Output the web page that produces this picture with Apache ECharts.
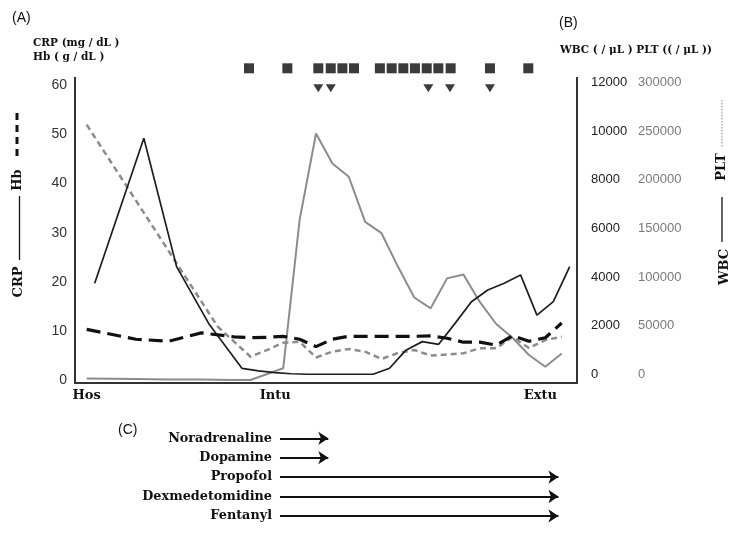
<!DOCTYPE html>
<html>
<head>
<meta charset="utf-8">
<script src="https://cdn.jsdelivr.net/npm/echarts@6/dist/echarts.min.js"></script>
<style>
html, body { margin: 0; padding: 0; background: #fff; }
#chart { width: 750px; height: 550px; }
</style>
</head>
<body>
<div id="chart"></div>
<script>
// day index since hospitalisation
const days = ['0', '1', '2', '3', '4', '5', '6', '7', '8', '9', '10', '11', '12', '13', '14',
  '15', '16', '17', '18', '19', '20', '21', '22', '23', '24', '25', '26', '27', '28', '29'];
const milestones = { 0: 'Hos', 12: 'Intu', 28: 'Extu' };

// (A) CRP mg/dL, Hb g/dL  (null = not measured)
const crp = [0.3, null, null, 0.2, null, 0.1, null, 0.1, null, 0.0, 0.0, null, 2.4, 32.6, 50.2,
  44.1, 41.4, 32.2, 29.9, 23.1, 16.8, 14.6, 20.7, 21.5, 15.9, 11.4, 8.6, 5.1, 2.7, 5.4];
const hb = [10.3, null, null, 8.3, null, 7.9, null, 9.6, null, 8.8, 8.6, 8.7, 8.9, 8.3, 6.8,
  8.3, 8.9, 8.9, 8.9, 8.9, 8.9, 9.0, 8.5, 7.7, 7.7, 7.1, 9.0, 7.9, 8.6, 11.6];

// (B) WBC /uL, PLT /uL
const wbc = [3750, null, null, 9700, null, 4430, null, 2050, null, 250, 150, 80, 30, 10, 10,
  10, 10, 10, 255, 1000, 1350, 1240, 2100, 2990, 3470, 3750, 4090, 2440, 2990, 4430];
const plt = [260000, null, null, null, null, null, null, null, 54300, null, 23700, 30500, 38000, 39000, 22900,
  28800, 31600, 28800, 21400, 27500, 30500, 24900, 26000, 27200, 32300, 32300, 43800, 32600, 40700, 44100];

// markers above the plot (day position)
const squareDays = [9.91, 12.25, 14.14, 14.9, 15.61, 16.32, 17.9, 18.62, 19.33, 20.04, 20.76, 21.47, 22.22, 24.62, 26.96];
const triangleDays = [14.14, 14.9, 20.86, 22.18, 24.62];

// (C) drugs
const drugNames = ['Noradrenaline', 'Dopamine', 'Propofol', 'Dexmedetomidine', 'Fentanyl'];
const drugStart = [11.8, 11.8, 11.8, 11.8, 11.8];
const drugEnd = [14.75, 14.75, 28.8, 28.8, 28.8];

const serif = 'DejaVu Serif';
const sans = 'Liberation Sans';

const chart = echarts.init(document.getElementById('chart'));

const labelRich = {
  hos: { fontFamily: serif, fontWeight: 'bold', fontSize: 13, color: '#111' },
  intu: { fontFamily: serif, fontWeight: 'bold', fontSize: 13, color: '#111', padding: [0, 16, 0, 0] },
  extu: { fontFamily: serif, fontWeight: 'bold', fontSize: 13, color: '#111', padding: [0, 10, 0, 0] },
};

const option = {
  animation: false,
  backgroundColor: '#fff',
  grid: [
    { left: 86.7, right: 188.3, top: 85.4, bottom: 170 },   // A
    { left: 94.7, right: 180.3, top: 82.3, bottom: 175.5 }, // B
    { left: 86.7, right: 188.3, top: 68.3, height: 20 },    // markers
    { left: 86.7, right: 188.3, top: 428.6, height: 97 },   // drugs
  ],
  xAxis: [
    {
      gridIndex: 0,
      type: 'category',
      data: days,
      boundaryGap: false,
      axisLine: { show: false },
      axisTick: { show: false },
      splitLine: { show: false },
      axisLabel: {
        interval: 0,
        margin: 9,
        formatter(v, i) {
          const m = milestones[i];
          return m ? `{${m.toLowerCase()}|${m}}` : '';
        },
        rich: labelRich,
      },
    },
    { gridIndex: 1, type: 'category', data: days, boundaryGap: false, show: false },
    { gridIndex: 2, type: 'value', min: 0, max: 29, show: false },
    { gridIndex: 3, type: 'value', min: 0, max: 29, show: false },
  ],
  yAxis: [
    {
      gridIndex: 0,
      type: 'value',
      min: 0,
      max: 60,
      interval: 10,
      axisLine: { show: false },
      axisTick: { show: false },
      splitLine: { show: false },
      axisLabel: { margin: 19.7, fontFamily: sans, fontSize: 14, color: '#333' },
    },
    { gridIndex: 0, type: 'value', min: 0, max: 300000, show: false },
    {
      gridIndex: 1,
      type: 'value',
      position: 'right',
      min: 0,
      max: 12000,
      interval: 2000,
      axisLine: { show: false },
      axisTick: { show: false },
      splitLine: { show: false },
      axisLabel: { margin: 21.3, fontFamily: sans, fontSize: 13, color: '#222', formatter: (v) => String(v) },
    },
    {
      gridIndex: 1,
      type: 'value',
      position: 'right',
      offset: 47,
      min: 0,
      max: 300000,
      interval: 50000,
      axisLine: { show: false },
      axisTick: { show: false },
      splitLine: { show: false },
      axisLabel: { margin: 21.3, fontFamily: sans, fontSize: 13, color: '#7a7a7a', formatter: (v) => String(v) },
    },
    { gridIndex: 2, type: 'value', min: 0, max: 1, show: false },
    {
      gridIndex: 3,
      type: 'category',
      data: drugNames,
      inverse: true,
      offset: -193.3,
      axisLine: { show: false },
      axisTick: { show: false },
      splitLine: { show: false },
      axisLabel: { margin: 8, fontFamily: serif, fontWeight: 'bold', fontSize: 12.8, color: '#111' },
    },
  ],
  series: [
    {
      name: 'CRP',
      type: 'line',
      xAxisIndex: 0,
      yAxisIndex: 0,
      data: crp,
      connectNulls: true,
      symbol: 'none',
      lineStyle: { color: '#8c8c8c', width: 2 },
    },
    {
      name: 'PLT',
      type: 'line',
      xAxisIndex: 0,
      yAxisIndex: 1,
      data: plt,
      connectNulls: true,
      symbol: 'none',
      lineStyle: { color: '#8c8c8c', width: 2.5, type: [6, 4] },
    },
    {
      name: 'WBC',
      type: 'line',
      xAxisIndex: 1,
      yAxisIndex: 2,
      data: wbc,
      connectNulls: true,
      symbol: 'none',
      lineStyle: { color: '#1e1e1e', width: 1.7 },
    },
    {
      name: 'Hb',
      type: 'line',
      xAxisIndex: 0,
      yAxisIndex: 0,
      data: hb,
      connectNulls: true,
      symbol: 'none',
      lineStyle: { color: '#111', width: 3.2, type: [14, 7] },
    },
    {
      type: 'scatter',
      xAxisIndex: 2,
      yAxisIndex: 4,
      symbol: 'rect',
      symbolSize: 10,
      itemStyle: { color: '#0a0a0a' },
      data: squareDays.map((d) => [d, 1]),
    },
    {
      type: 'scatter',
      xAxisIndex: 2,
      yAxisIndex: 4,
      symbol: 'path://M0,0 L10,0 L5,8 Z',
      symbolSize: [10, 8],
      itemStyle: { color: '#0a0a0a' },
      data: triangleDays.map((d) => [d, 0]),
    },
    {
      type: 'lines',
      coordinateSystem: 'cartesian2d',
      xAxisIndex: 3,
      yAxisIndex: 5,
      symbol: ['none', 'arrow'],
      symbolSize: [8, 10],
      lineStyle: { color: '#111', width: 1.8, opacity: 1 },
      data: drugNames.map((n, i) => ({ coords: [[drugStart[i], i], [drugEnd[i], i]] })),
    },
  ],
  graphic: [
    // plot frame
    {
      type: 'polyline',
      shape: { points: [[75, 77], [75, 383], [577, 383], [577, 77]] },
      style: { stroke: '#333', lineWidth: 2, fill: null },
    },
    { type: 'text', x: 12, y: 18, style: { text: '(A)', font: `14px "${sans}"`, fill: '#111', textVerticalAlign: 'middle' } },
    { type: 'text', x: 33, y: 43, style: { text: 'CRP (mg / dL )', font: `bold 10.5px "${serif}"`, fill: '#111', textVerticalAlign: 'middle' } },
    { type: 'text', x: 33, y: 57, style: { text: 'Hb ( g / dL )', font: `bold 10.5px "${serif}"`, fill: '#111', textVerticalAlign: 'middle' } },
    { type: 'text', x: 559, y: 23, style: { text: '(B)', font: `14px "${sans}"`, fill: '#111', textVerticalAlign: 'middle' } },
    { type: 'text', x: 560, y: 50, style: { text: 'WBC ( / μL ) PLT (( / μL ))', font: `bold 10.5px "${serif}"`, fill: '#111', textVerticalAlign: 'middle' } },
    { type: 'text', x: 118, y: 430, style: { text: '(C)', font: `14px "${sans}"`, fill: '#111', textVerticalAlign: 'middle' } },
    // left vertical key: CRP ——  Hb - - -
    { type: 'text', x: 18.5, y: 282, rotation: Math.PI / 2, style: { text: 'CRP', font: `bold 13px "${serif}"`, fill: '#111', textAlign: 'center', textVerticalAlign: 'middle' } },
    { type: 'line', shape: { x1: 19.5, y1: 196, x2: 19.5, y2: 260 }, style: { stroke: '#111', lineWidth: 1.3 } },
    { type: 'text', x: 17.5, y: 180, rotation: Math.PI / 2, style: { text: 'Hb', font: `bold 13px "${serif}"`, fill: '#111', textAlign: 'center', textVerticalAlign: 'middle' } },
    { type: 'line', shape: { x1: 17, y1: 113, x2: 17, y2: 158 }, style: { stroke: '#111', lineWidth: 3, lineDash: [7, 5] } },
    // right vertical key: WBC ——  PLT ......
    { type: 'text', x: 725, y: 267, rotation: Math.PI / 2, style: { text: 'WBC', font: `bold 13px "${serif}"`, fill: '#111', textAlign: 'center', textVerticalAlign: 'middle' } },
    { type: 'line', shape: { x1: 722, y1: 197, x2: 722, y2: 242 }, style: { stroke: '#111', lineWidth: 1.3 } },
    { type: 'text', x: 722, y: 167, rotation: Math.PI / 2, style: { text: 'PLT', font: `bold 13px "${serif}"`, fill: '#111', textAlign: 'center', textVerticalAlign: 'middle' } },
    { type: 'line', shape: { x1: 722, y1: 100, x2: 722, y2: 147 }, style: { stroke: '#999', lineWidth: 1.2, lineDash: [1.5, 1.5] } },
  ],
};

chart.setOption(option);
</script>
</body>
</html>
